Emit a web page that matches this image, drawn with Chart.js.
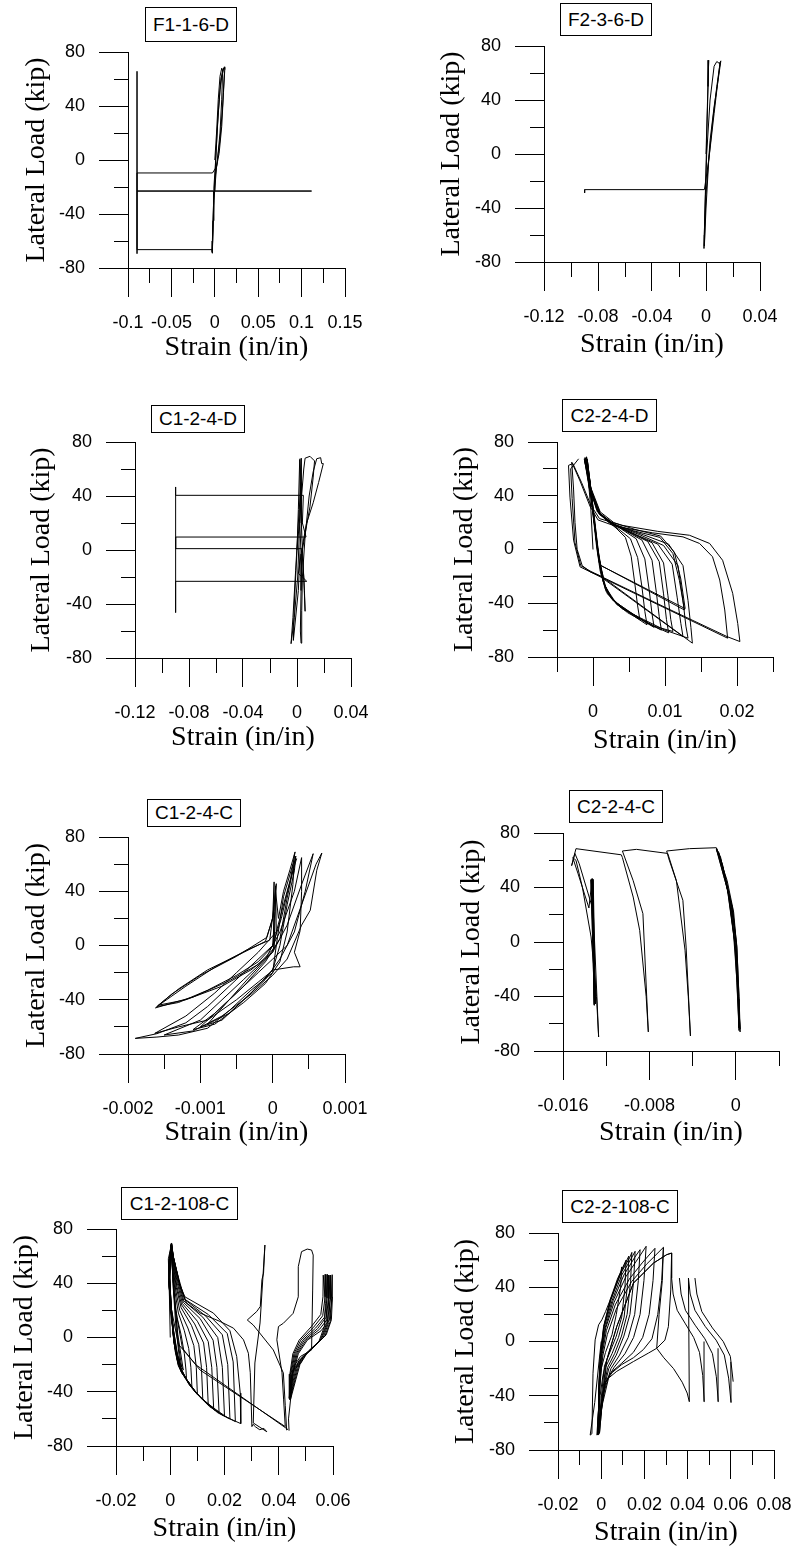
<!DOCTYPE html>
<html><head><meta charset="utf-8">
<script src="https://cdn.jsdelivr.net/npm/chart.js@4.4.1/dist/chart.umd.min.js"></script>
<style>
html,body{margin:0;padding:0;background:#fff;}
body{width:799px;height:1552px;position:relative;overflow:hidden;}
canvas{position:absolute;}
.tbox{position:absolute;border:1px solid #000;box-sizing:border-box;background:#fff;font-family:'Liberation Sans',Arial,sans-serif;font-size:19px;color:#000;display:flex;align-items:center;justify-content:center;white-space:nowrap;}
</style></head><body>
<script>
// ---------- shared y ticks ----------
const Y_MAJOR = [-80,-40,0,40,80];
const Y_LABELS = ['-80','-40','0','40','80'];
const Y_MINOR = [-80,-60,-40,-20,0,20,40,60,80];

// ---------- F1-1-6-D ----------
const F116D_X_MAJOR = [-0.1,-0.05,0,0.05,0.1,0.15];
const F116D_X_LABELS = ['-0.1','-0.05','0','0.05','0.1','0.15'];
const F116D_X_MINOR = [-0.1,-0.075,-0.05,-0.025,0,0.025,0.05,0.075,0.1,0.125,0.15];
const F116D_PATH = [[0,0],[0.002,20],[0.004,45],[0.006,62],[0.008,68],[0.009,66],[0.008,45],[0.006,20],[0.003,0],[0,-15],[-0.002,-40],[-0.003,-66],[-0.0028,-69],[-0.002,-45],[-0.001,-20],[0.001,0],[0.003,25],[0.006,52],[0.009,66],[0.011,69],[0.0115,67],[0.010,50],[0.008,25],[0.005,5],[0.002,-5],[-0.0027,-9.6],[-0.0896,-9.6],[-0.0896,65.7],[-0.0896,-69.4],[-0.0896,-66.4],[-0.0027,-66.4],[-0.002,-45],[-0.0015,-23],[-0.0896,-23],[0.1115,-23],[0,-23],[0.001,0],[0.004,35],[0.007,60],[0.010,68],[0.011,64],[0.009,40],[0.006,15],[0.002,-5],[-0.001,-30],[-0.0025,-60],[-0.003,-68]];

// ---------- F2-3-6-D ----------
const F236D_X_MAJOR = [-0.12,-0.08,-0.04,0,0.04];
const F236D_X_LABELS = ['-0.12','-0.08','-0.04','0','0.04'];
const F236D_X_MINOR = [-0.12,-0.1,-0.08,-0.06,-0.04,-0.02,0,0.02,0.04];
const F236D_PATH = [[0,0],[0.001,35],[0.002,69.5],[0.0015,50],[0.0005,10],[-0.0005,-30],[-0.0015,-70],[-0.001,-50],[0.0005,0],[0.003,40],[0.006,65],[0.008,68.5],[0.010,67],[0.011,69],[0.009,55],[0.006,35],[0.003,10],[0,-30],[-0.001,-60],[-0.0012,-68],[0,-40],[0.002,-5],[0.005,25],[0.008,50],[0.0105,68],[0.0095,60],[0.006,30],[0.002,-5],[-0.0012,-26.4],[-0.0899,-26.4],[-0.0899,-28.8]];

// ---------- C1-2-4-D ----------
const C124D_X_MAJOR = [-0.12,-0.08,-0.04,0,0.04];
const C124D_X_LABELS = ['-0.12','-0.08','-0.04','0','0.04'];
const C124D_X_MINOR = [-0.12,-0.1,-0.08,-0.06,-0.04,-0.02,0,0.02,0.04];
const C124D_PATH = [[0,0],[0.001,30],[0.002,67],[0.0025,60],[0.002,20],[0.0005,-20],[-0.002,-50],[-0.0044,-69.4],[-0.003,-50],[-0.001,-15],[0.001,20],[0.003,50],[0.003,68],[0.0035,60],[0.003,20],[0.001,-30],[-0.0027,-67],[-0.002,-40],[0,0],[0.003,35],[0.005,60],[0.006,68],[0.0096,69.4],[0.013,66],[0.012,54],[0.0096,32],[0.006,12],[0.0035,-3],[0.003,-30],[0.0025,-60],[0.003,-69],[0.0035,-45],[0.004,-20],[0.006,10],[0.009,40],[0.012,58],[0.0146,67.6],[0.0175,68.4],[0.0183,64],[0.0195,64],[0.016,50],[0.012,35],[0.007,19.5],[0.0035,0],[0.001,-17.5],[0.004,-20],[0.0072,-23.2],[-0.0899,-23.2],[-0.0899,-46.4],[-0.0899,46.7],[-0.0899,40.5],[0.0047,40.5],[0.004,20],[0.0067,9.6],[-0.0899,9.6],[-0.0899,1],[0.0035,1],[0.005,-20],[0.006,-45.4],[0.0055,-30],[0.004,0],[0.0025,40],[0.0022,67.7]];

// ---------- C2-2-4-D ----------
const C224D_X_MAJOR = [0,0.01,0.02];
const C224D_X_LABELS = ['0','0.01','0.02'];
const C224D_X_MINOR = [-0.005,0,0.005,0.01,0.015,0.02,0.025];
const C224D_PATH = [[0,0],[-0.0003,30],[-0.0007,55],[-0.0009,68],
[-0.0004,48],[0.0005,30],[0.0018,22],[0.0032,16],[0.0045,9],[0.0053,-5],[0.0058,-25],[0.0062,-42],[0.0065,-52],
[0.0048,-47],[0.0032,-40],[0.0018,-31],[0.0010,-16],[0.0005,2],[0,26],[-0.0004,50],[-0.0008,67],
[-0.0005,46],[0.0006,28],[0.0020,21],[0.0036,15],[0.0052,8],[0.0062,-6],[0.0068,-28],[0.0072,-46],[0.0075,-56],
[0.0058,-50],[0.0040,-43],[0.0022,-34],[0.0012,-20],[0.0006,0],[0.0001,25],[-0.0004,50],[-0.0010,68],
[-0.0004,45],[0.0007,28],[0.0022,21],[0.0040,15],[0.0060,8],[0.0072,-7],[0.0078,-30],[0.0082,-48],[0.0085,-58],
[0.0066,-52],[0.0045,-45],[0.0026,-37],[0.0014,-24],[0.0007,-2],[0.0001,24],[-0.0005,52],[-0.0011,68.5],
[-0.0005,46],[0.0007,28],[0.0024,20],[0.0045,14],[0.0068,7],[0.0082,-8],[0.0088,-32],[0.0092,-50],[0.0095,-60],
[0.0073,-54],[0.0050,-46],[0.0028,-38],[0.0015,-25],[0.0007,-3],[0.0001,24],[-0.0005,52],[-0.0010,68],
[-0.0004,45],[0.0008,27],[0.0026,20],[0.0050,13],[0.0076,6],[0.0092,-9],[0.0098,-33],[0.0102,-52],[0.0105,-62],
[0.0080,-56],[0.0055,-48],[0.0031,-39],[0.0016,-27],[0.0008,-5],[0.0002,22],[-0.0004,50],[-0.0009,69],
[-0.0004,44],[0.0009,26],[0.0027,19],[0.0055,12],[0.0082,5],[0.0098,-10],[0.0104,-34],[0.0108,-52],[0.0111,-61],
[0.0085,-57],[0.0058,-49],[0.0033,-41],[0.0017,-29],[0.0008,-8],[0.0002,20],[-0.0004,48],[-0.0008,67],
[-0.0003,45],[0.0010,27],[0.0028,19],[0.0056,14],[0.0093,9],[0.0111,-3],[0.0120,-23],[0.0127,-45],
[0.0010,-11.6],[0.0006,5],[0.0001,28],[-0.0005,52],[-0.0010,68],
[-0.0003,46],[0.0010,28],[0.0029,20],[0.0058,15],[0.0094,10],[0.0113,-2],[0.0122,-22],[0.0128,-44],
[0.0011,-12],[0.0005,5],[0,28],[-0.0006,54],[-0.0012,67],
[-0.0003,44],[0.0010,26],[0.0030,18],[0.0060,11],[0.0090,4],[0.0110,-11],[0.0117,-36],[0.0122,-55],[0.0125,-64.8],
[0.0015,-22],[0.0008,-6],[0.0002,20],[-0.0005,48],[-0.0011,68],
[-0.0003,44],[0.0010,26],[0.0031,18],[0.0065,11],[0.0098,3],[0.0118,-12],[0.0125,-38],[0.0129,-57],[0.0132,-66],
[0.0100,-60],[0.0070,-52],[0.0040,-44],[0.0020,-33],[0.0009,-10],[0.0002,18],[-0.0005,47],[-0.0012,67.5],
[-0.0005,45],[0.0009,27],[0.0032,18],[0.0070,11],[0.0105,4],[0.0125,-12],[0.0132,-38],[0.0136,-58],[0.0138,-69.7],
[0.0012,-20],[-0.0004,-16.6],[-0.0015,-12],[-0.0022,0],[-0.0025,20],[-0.0027,45],[-0.00295,65],
[-0.0018,51],[-0.0004,32],[0.0007,22],[0.0033,17],[0.0083,12.4],[0.0125,9.4],[0.0148,4.5],[0.0166,-5.4],[0.0176,-22.7],[0.0183,-45],[0.0187,-66],
[0.0010,-20.3],[-0.0004,-16.6],[-0.0018,-12.9],[-0.0027,7],[-0.0032,39],[-0.0034,62.6],
[-0.0028,64],[-0.0016,50],[-0.0003,33],[0.0009,23],[0.0040,18],[0.0090,13.5],[0.0134,10.6],[0.0162,4.5],[0.0180,-8],[0.0194,-32.6],[0.0201,-55],[0.0204,-68.5],
[0.0187,-65],[0.0100,-43],[0.0011,-20],[-0.0004,-16],[-0.0017,-12],[-0.0025,5],[-0.0029,38],[-0.0031,60],[-0.0020,67.5]];

// ---------- C1-2-4-C ----------
const C124C_X_MAJOR = [-0.002,-0.001,0,0.001];
const C124C_X_LABELS = ['-0.002','-0.001','0','0.001'];
const C124C_X_MINOR = [-0.002,-0.0015,-0.001,-0.0005,0,0.0005,0.001];
const C124C_PATH = [[0,0],[0.00003,25],[0.00005,45.6],[0.00002,30],[-0.00004,4],[-0.00036,-3.4],[-0.0008,-16],[-0.0012,-30],[-0.0016,-45],[-0.0013,-42],[-0.0009,-33],[-0.0005,-22],[-0.0002,-12],[0.00001,0],[0.00002,46.9],[0,20],[-0.0001,3],[-0.0004,-5],[-0.0009,-18],[-0.0013,-32],[-0.00158,-44],[-0.0012,-40],[-0.0007,-30],[-0.0003,-18],[0,-5],[0.00005,10],[0.00004,44],
[0.00001,22],[-0.00008,6],[-0.0005,-8],[-0.001,-22],[-0.0014,-36],[-0.00162,-46],[-0.0011,-38],[-0.0006,-26],[-0.0002,-14],[0.00002,-2],[0.00004,40],
[0.00008,20],[0.00015,40],[0.00024,56],[0.00031,69],[0.00025,50],[0.00012,20],[0,0],[-0.0003,-15],[-0.0006,-30],[-0.0009,-45],[-0.0012,-57],[-0.0016,-65],[-0.0019,-68.5],[-0.0016,-67.5],[-0.0013,-66],[-0.0009,-61],[-0.0006,-48],[-0.0003,-33],[0,-20],[0.00005,0],[0.00015,36],[0.00028,60],[0.00033,64],[0.0002,40],[0.00005,10],[-0.0002,-5],[-0.0005,-20],[-0.0008,-35],[-0.0012,-52],[-0.00163,-64.8],[-0.0013,-60],[-0.0009,-55],[-0.0005,-40],[-0.0002,-27],[0.00001,-18],[0.00029,-15.7],[0.00038,-15.7],[0.0003,-5],[0.00038,11],[0.0004,40],[0.0004,64.8],[0.0003,40],[0.0001,10],[-0.0001,-10],[-0.0004,-25],[-0.0007,-40],[-0.001,-55],[-0.0015,-66],[-0.0011,-63],[-0.0007,-52],[-0.0003,-36],[0,-22],[0.0002,-10],[0.0004,15],[0.00052,26],[0.00061,55.5],[0.00068,68.2],[0.0006,60],[0.0004,30],[0.0002,0],[0,-10],[-0.0002,-20],[-0.0005,-35],[-0.0008,-50],[-0.001,-60],[-0.0007,-55],[-0.0004,-40],[-0.0001,-25],[0.0001,-10],[0.0003,10],[0.00045,40],[0.00056,67.7],
[0.0004,45],[0.0002,15],[0,-5],[-0.0003,-22],[-0.0006,-40],[-0.0009,-58],[-0.0006,-50],[-0.0003,-35],[0,-18],[0.0001,0],[0.0002,30],[0.0003,55],[0.00032,66],[0.0002,35],[0.0001,5],[-0.0001,-12],[-0.0004,-30],[-0.0008,-50],[-0.0011,-62],[-0.0008,-58],[-0.0004,-42],[-0.0001,-28],[0.0001,-12],[0.0002,10],[0.00028,45],[0.0003,67]];

// ---------- C2-2-4-C ----------
const C224C_X_MAJOR = [-0.016,-0.008,0];
const C224C_X_LABELS = ['-0.016','-0.008','0'];
const C224C_X_MINOR = [-0.016,-0.012,-0.008,-0.004,0,0.004];
const C224C_PATH = [[0,0],[-0.0004,25],[-0.0012,55],[-0.0018,68],[-0.001,45],[-0.0003,25],[0,0],[0.0002,-30],[0.0003,-65],[0.0001,-30],[-0.0001,0],[-0.0005,30],[-0.0013,58],[-0.0017,67],[-0.0008,45],[-0.0002,22],[0.0001,-5],[0.0003,-40],[0.0004,-64],[0.0002,-35],[0,-5],[-0.0007,35],[-0.0014,62],[-0.0018,69],[-0.0011,48],[-0.0004,28],[0,2],[0.0002,-32],[0.0004,-66],[0.0002,-38],[0,-8],[-0.0006,32],[-0.0012,56],[-0.0016,66],[-0.0009,46],[-0.0003,24],[0.0001,-3],[0.0003,-42],[0.0003,-63],[0.0001,-28],[-0.0002,5],[-0.0008,40],[-0.0015,63],[-0.0018,69.2],
[-0.0043,68.5],[-0.0064,66.8],
[-0.0062,61],[-0.0049,30.6],[-0.0046,-3.7],[-0.0042,-69],[-0.0044,-40],[-0.0047,-6],[-0.0055,45],[-0.0063,65],
[-0.0092,68],[-0.0105,66.8],
[-0.0095,45],[-0.0086,20.8],[-0.0081,-66],[-0.0083,-40],[-0.0089,8.6],[-0.0095,33],[-0.0105,62],[-0.0106,64],
[-0.0148,68.5],
[-0.0152,56],[-0.0149,65],[-0.0145,57.5],[-0.0132,23],[-0.0127,-69.7],[-0.0129,-40],[-0.0134,3.7],[-0.0142,40],[-0.0148,60],[-0.0151,62],[-0.0146,50],[-0.0136,25],[-0.0133,46.5],[-0.0131,-46],[-0.0133,46],[-0.013,-45],[-0.0134,45.5],[-0.0131,-46.5],[-0.0133,46.5],[-0.0130,-45.5],[-0.0132,46],[-0.0131,-46],[-0.0134,46],[-0.0130,-45]];

// ---------- C1-2-108-C ----------
const C12108C_X_MAJOR = [-0.02,0,0.02,0.04,0.06];
const C12108C_X_LABELS = ['-0.02','0','0.02','0.04','0.06'];
const C12108C_X_MINOR = [-0.02,-0.01,0,0.01,0.02,0.03,0.04,0.05,0.06];
const C12108C_PATH = [[0,0],[-0.0003,30],[-0.0007,58],[0.0005,69],[0.001,40],[0.002,10],[0.0035,-18],[0.002,-10],[0,20],[-0.0006,50],[0.0003,68],[0.0015,30],[0.003,-5],[0.0042,-22],[0.0025,-12],[0.0005,15],[-0.0004,45],[0.0004,68],[0.0012,35],[0.0028,2],[0.0048,-24],[0.003,-16],[0.0008,10],[-0.0005,50],[0.0003,68],
[0.0008,50],[0.0015,30],[0.0025,15],[0.004,2],[0.0052,-12],[0.0058,-24],[0.006,-31],[0.0045,-27],[0.003,-21],[0.0018,-10],[0.0008,8],[0,30],[-0.0004,52],[0.0002,68],
[0.0009,52],[0.0018,33],[0.003,18],[0.0052,5],[0.0068,-8],[0.0076,-22],[0.008,-37],[0.006,-31],[0.0042,-26],[0.0028,-19],[0.0015,-5],[0.0005,15],[-0.0003,45],[0.0003,69],
[0.001,54],[0.002,35],[0.0035,20],[0.0065,7],[0.0087,-6],[0.0096,-22],[0.01,-42],[0.0078,-36],[0.0058,-30],[0.004,-25],[0.0025,-16],[0.0012,0],[0,30],[-0.0005,55],[0.0004,68],
[0.0011,55],[0.0022,37],[0.004,22],[0.0078,9],[0.0105,-5],[0.0115,-22],[0.012,-46],[0.0095,-41],[0.0072,-34],[0.005,-28],[0.003,-20],[0.0015,-5],[0.0003,25],[-0.0004,52],[0.0005,69],
[0.0012,56],[0.0024,38],[0.0042,24],[0.009,10],[0.0123,-4],[0.0134,-22],[0.014,-49.5],[0.011,-44],[0.0085,-38],[0.006,-31],[0.0035,-22],[0.0017,-7],[0.0004,22],[-0.0005,50],[0.0004,68],
[0.0012,57],[0.0026,40],[0.0045,25],[0.01,12],[0.014,-3],[0.0153,-22],[0.016,-52],[0.0128,-47.5],[0.0098,-41],[0.007,-34],[0.0045,-26],[0.0025,-14],[0.0008,10],[-0.0003,45],[0.0005,68.5],
[0.0012,58],[0.0028,41],[0.0048,26],[0.011,14],[0.0158,-2],[0.0172,-22],[0.018,-55.5],[0.0145,-51],[0.011,-44],[0.008,-37],[0.005,-28],[0.003,-19],[0.0012,0],[-0.0002,35],[0.0004,69],
[0.0012,59],[0.003,42],[0.005,27],[0.012,15],[0.0175,0],[0.0192,-22],[0.02,-58],[0.016,-53],[0.012,-46],[0.0085,-38.6],[0.0055,-30],[0.0032,-20],[0.0013,-3],[-0.0004,38],[0.0003,68],
[0.0011,59],[0.0032,43],[0.0053,28],[0.013,16],[0.0192,2],[0.0212,-20],[0.022,-60],[0.0175,-55.5],[0.0134,-48.5],[0.0095,-40.5],[0.006,-31],[0.0035,-21],[0.0014,-3],[-0.0005,40],[0.0004,69.5],
[0.0011,60],[0.0034,40],[0.0055,28],[0.014,17],[0.021,3],[0.0232,-18],[0.024,-62],[0.019,-57],[0.0145,-50],[0.01,-42],[0.0065,-33],[0.0038,-22],[0.0015,-4],[-0.0006,42],[0.0005,69.7],
[0.0011,60],[0.0035,39],[0.0054,30],[0.0159,18],[0.022,5],[0.0245,-14],[0.0258,-41],[0.026,-63.5],[0.021,-59],[0.016,-52],[0.011,-44],[0.007,-35],[0.004,-24],[0.0016,-5],[-0.0006,42],[0.0005,69],
[0.0011,60],[0.0036,37.7],[0.006,25.4],[0.011,18],[0.0184,11.8],[0.0233,6.9],[0.027,-1.7],[0.0288,-11.6],[0.0295,-26],[0.0301,-65.7],[0.0305,-64],[0.0315,-66],[0.033,-68],[0.0345,-67],[0.0356,-69.5],
[0.0306,-63],[0.0312,-18.8],[0.0331,10.7],[0.0349,68.2],[0.0344,47.5],[0.0338,42.6],[0.0332,22.9],[0.0319,19.2],[0.0284,12.9],[0.0306,9.2],[0.038,-9.2],[0.0417,-26.2],[0.0424,-50],[0.0429,-68.2],[0.0433,-67.7],
[0.0095,-20.2],[0.003,-5],[0,25],[-0.0006,55],[0.0005,69],[0.0008,50],[0.002,20],[0.0045,-8],[0.011,-24],[0.0424,-65.7],
[0.0418,-46],[0.0412,-26],[0.0393,-1.7],[0.0399,8.1],[0.0417,10.5],[0.0453,17.8],[0.0472,30],[0.0472,52.2],[0.0484,63.3],[0.0505,65.2],[0.0521,64.5],[0.0527,60.8],[0.0525,35],[0.0521,-9.2],[0.048,-14],[0.046,-20],[0.0445,-30],[0.0439,-44.6],
[0.0442,-35],[0.0452,-25],[0.0475,-17],[0.051,-10],[0.0548,-3],[0.0568,8],[0.0572,25],[0.0564,46],[0.0563,30],[0.0555,17],[0.052,8],[0.0475,-2],[0.0452,-12],[0.0441,-27],[0.0439,-45],
[0.0447,-35],[0.0458,-24],[0.048,-16],[0.0515,-9],[0.0553,-2],[0.0574,9],[0.0578,26],[0.0572,46.5],[0.0571,30],[0.0562,16],[0.0528,7.5],[0.0481,-2],[0.0456,-12],[0.0443,-27],[0.044,-45.5],
[0.0451,-34],[0.0463,-23],[0.0486,-15],[0.0521,-8],[0.0558,-1],[0.0579,10],[0.0584,27],[0.0579,46.5],[0.0578,29],[0.0569,15],[0.0536,7],[0.0488,-2],[0.046,-12],[0.0445,-27],[0.0441,-46],
[0.0455,-33],[0.0468,-22],[0.0492,-14],[0.0528,-7],[0.0564,0],[0.0584,11],[0.0589,28],[0.0585,46],[0.0584,29],[0.0575,15],[0.0543,6.5],[0.0494,-2],[0.0464,-12],[0.0448,-27],[0.0442,-45],
[0.0459,-32],[0.0473,-21],[0.0498,-13],[0.0535,-6],[0.057,1],[0.059,12],[0.0595,29],[0.0591,46],[0.059,28],[0.0581,14],[0.055,6],[0.05,-2],[0.0468,-12],[0.045,-27],[0.0443,-46],
[0.0463,-31],[0.0478,-20],[0.0503,-12],[0.054,-5],[0.0575,2],[0.0594,13],[0.0598,30],[0.0597,46.3],[0.0596,28],[0.0587,13],[0.0556,5],[0.0505,-2],[0.0472,-12],[0.0452,-27],[0.0444,-45],
[0.0436,-60],[0.0438,-68.7]];

// ---------- C2-2-108-C ----------
const C22108C_X_MAJOR = [-0.02,0,0.02,0.04,0.06,0.08];
const C22108C_X_LABELS = ['-0.02','0','0.02','0.04','0.06','0.08'];
const C22108C_X_MINOR = [-0.02,-0.01,0,0.01,0.02,0.03,0.04,0.05,0.06,0.07,0.08];
const C22108C_FAN = [[0,0],[-0.001,-15],[-0.003,-45],[-0.0051,-69],[-0.0043,-68],[-0.0038,-23.4],[-0.0028,1.2],[-0.0012,12.3],[0.0003,16],[0.002,22],[0.004,30],[0.0065,40],[0.009,50],[0.0095,55],[0.009,40],[0.007,20],[0.005,5],[0.002,-8],[0,-20],[-0.001,-45],[-0.002,-69],[-0.0012,-67.7],
[-0.0012,-36],[-0.0005,-11],[0.0011,11],[0.0042,31],[0.0075,46],[0.0115,60],[0.011,40],[0.0095,18],[0.007,4],[0.004,-8],[0.0015,-18],[0,-42],[-0.0013,-68],
[-0.0011,-36],[-0.0004,-11],[0.0012,11],[0.0044,31],[0.0085,49],[0.0128,63],[0.0122,42],[0.0106,18],[0.008,3],[0.005,-9],[0.002,-19],[0.0002,-44],[-0.0014,-68.5],
[-0.0011,-35],[-0.0003,-10],[0.0013,11],[0.0046,31],[0.009,50],[0.0134,62.5],[0.0142,65.7],[0.0136,44],[0.012,20],[0.0094,4],[0.0062,-9],[0.003,-19],[0.0005,-40],[-0.0015,-69],
[-0.001,-34],[-0.0002,-10],[0.0015,11],[0.005,30],[0.0095,49],[0.0145,63],[0.0157,66.5],[0.015,44],[0.0133,20],[0.0105,4],[0.007,-10],[0.0035,-20],[0.0008,-38],[-0.0016,-68],
[-0.0009,-33],[0,-9],[0.0018,10],[0.0055,30],[0.0105,49],[0.0155,62],[0.018,67.7],[0.0172,45],[0.0155,20],[0.0125,3],[0.0085,-10],[0.0045,-20],[0.0012,-38],[-0.0017,-68],
[-0.0008,-32],[0.0002,-9],[0.0021,10],[0.006,29],[0.0115,48],[0.017,61],[0.0208,70.2],[0.0198,45],[0.018,20],[0.015,3],[0.011,-9],[0.006,-19],[0.002,-30],[0,-50],[-0.0017,-68.5],
[-0.0007,-30],[0.0005,-9],[0.0024,8],[0.0065,27],[0.013,46],[0.019,58],[0.0249,68.7],[0.024,45],[0.0222,20],[0.0192,3],[0.0149,-8],[0.0095,-16],[0.0045,-23],[0.0015,-32],[0,-52],[-0.0016,-68],
[-0.0006,-30],[0.0008,-10],[0.0028,5],[0.007,24],[0.014,44],[0.021,57],[0.0288,69.4],[0.028,45],[0.0262,20],[0.0235,2],[0.0195,-6],[0.0149,-12],[0.0095,-17],[0.005,-23],[0.002,-30],[0.0003,-48],[-0.0015,-67.7],
[-0.0005,-40],[0.0008,-25],[0.0026,-13.5],[0.0072,11],[0.0149,43],[0.0242,57.8],[0.0303,64],[0.0326,65.2],[0.0322,38],[0.0311,11],[0.0295,1],[0.0257,-5],[0.0218,-8.6],[0.0149,-14.8],[0.0072,-22],[0.0034,-27],[0.0003,-48],[-0.0008,-67.7],
[0.0003,-48],[0.0026,-13.5],[0.0072,11],[0.0149,43],[0.0242,57.8],[0.0303,64],[0.0326,65.2],[0.0326,46.8],[0.0333,35],[0.0352,23],[0.039,13],[0.0428,3],[0.0455,-8],[0.047,-25],[0.0477,-44.4],[0.0476,0]];
const C22108C_RIGHT_A = [[0.0288,69.4],[0.0283,45],[0.0268,20],[0.0257,-5],[0.029,-12],[0.0335,-20],[0.0375,-30],[0.0398,-38],[0.0408,-44.4],[0.0404,46.8],[0.0412,35],[0.0434,23],[0.0482,11],[0.0532,1],[0.057,-10],[0.059,-27],[0.0601,-45],[0.06,-15]];
const C22108C_RIGHT_B = [[0.0362,46.8],[0.037,35],[0.039,23],[0.0435,12],[0.048,2],[0.0515,-9],[0.0533,-26],[0.0542,-44.4],[0.0541,-5]];
const C22108C_RIGHT_C = [[0.0434,46.8],[0.0443,35],[0.0466,22],[0.0515,10],[0.0565,0],[0.0598,-11],[0.0611,-29.6]];

// ---------- panel layout (page pixels) ----------
const PANELS = [
  {title:'F1-1-6-D', cellL:0, cellW:400, plotL:128, plotR:345, plotT:52, plotB:268, yTitleX:37, xTitleY:348, box:[145,7,92,35], xMin:-0.1, xMax:0.15, xMajor:F116D_X_MAJOR, xLabels:F116D_X_LABELS, xMinor:F116D_X_MINOR, paths:[F116D_PATH]},
  {title:'F2-3-6-D', cellL:400, cellW:399, plotL:544, plotR:760, plotT:46, plotB:262, yTitleX:452, xTitleY:345, box:[560,3,92,33], xMin:-0.12, xMax:0.04, xMajor:F236D_X_MAJOR, xLabels:F236D_X_LABELS, xMinor:F236D_X_MINOR, paths:[F236D_PATH]},
  {title:'C1-2-4-D', cellL:0, cellW:400, plotL:135, plotR:351, plotT:442, plotB:658, yTitleX:42, xTitleY:738, box:[151,405,94,28], xMin:-0.12, xMax:0.04, xMajor:C124D_X_MAJOR, xLabels:C124D_X_LABELS, xMinor:C124D_X_MINOR, paths:[C124D_PATH]},
  {title:'C2-2-4-D', cellL:400, cellW:399, plotL:557, plotR:773, plotT:442, plotB:657, yTitleX:465, xTitleY:741, box:[562,399,95,33], xMin:-0.005, xMax:0.025, xMajor:C224D_X_MAJOR, xLabels:C224D_X_LABELS, xMinor:C224D_X_MINOR, paths:[C224D_PATH]},
  {title:'C1-2-4-C', cellL:0, cellW:400, plotL:128, plotR:345, plotT:837, plotB:1054, yTitleX:37, xTitleY:1133, box:[147,799,94,28], xMin:-0.002, xMax:0.001, xMajor:C124C_X_MAJOR, xLabels:C124C_X_LABELS, xMinor:C124C_X_MINOR, paths:[C124C_PATH]},
  {title:'C2-2-4-C', cellL:400, cellW:399, plotL:563, plotR:779, plotT:833, plotB:1051, yTitleX:472, xTitleY:1133, box:[569,790,94,33], xMin:-0.016, xMax:0.004, xMajor:C224C_X_MAJOR, xLabels:C224C_X_LABELS, xMinor:C224C_X_MINOR, paths:[C224C_PATH]},
  {title:'C1-2-108-C', cellL:0, cellW:400, plotL:116, plotR:333, plotT:1229, plotB:1446, yTitleX:25, xTitleY:1529, box:[121,1187,117,33], xMin:-0.02, xMax:0.06, xMajor:C12108C_X_MAJOR, xLabels:C12108C_X_LABELS, xMinor:C12108C_X_MINOR, paths:[C12108C_PATH]},
  {title:'C2-2-108-C', cellL:400, cellW:399, plotL:558, plotR:774, plotT:1233, plotB:1450, yTitleX:466, xTitleY:1533, box:[562,1190,116,33], xMin:-0.02, xMax:0.08, xMajor:C22108C_X_MAJOR, xLabels:C22108C_X_LABELS, xMinor:C22108C_X_MINOR, paths:[C22108C_FAN, C22108C_RIGHT_A, C22108C_RIGHT_B, C22108C_RIGHT_C]}
];

const TICK_FONT = {family:"'Liberation Sans', Arial, sans-serif", size:18};
const AXIS_TITLE_FONT = {family:"'Liberation Serif', 'Times New Roman', serif", size:28, lineHeight:1};

function zeroPad(s){ s.paddingLeft = 0; s.paddingRight = 0; s.paddingTop = 0; s.paddingBottom = 0; }

function makePanel(p){
  const canvasTop = p.plotT - 25;
  const canvasH = Math.min(p.xTitleY + 20, 1552) - canvasTop;
  const cv = document.createElement('canvas');
  cv.width = p.cellW; cv.height = canvasH;
  cv.style.left = p.cellL + 'px'; cv.style.top = canvasTop + 'px';
  cv.style.width = p.cellW + 'px'; cv.style.height = canvasH + 'px';
  document.body.appendChild(cv);

  const padL = p.yTitleX - 14 - p.cellL;
  const yW = p.plotL - p.cellL - padL;
  const xH = p.xTitleY + 14 - p.plotB;
  const padR = p.cellL + p.cellW - p.plotR;
  const padB = canvasH - (p.plotB - canvasTop) - xH;

  const datasets = p.paths.map(path => ({
    data: path.map(pt => ({x: pt[0], y: pt[1]})),
    showLine: true, borderColor:'#000', borderWidth:1, pointRadius:0, pointHoverRadius:0,
    tension:0, fill:false, xAxisID:'x', yAxisID:'y'
  }));

  new Chart(cv, {
    type:'scatter',
    data:{datasets},
    options:{
      responsive:false, maintainAspectRatio:false, animation:false, devicePixelRatio:1, events:[],
      layout:{padding:{left:padL, top:25, right:padR, bottom:padB}},
      plugins:{legend:{display:false}, tooltip:{enabled:false}, title:{display:false}},
      scales:{
        x:{type:'linear', position:'bottom', weight:1, min:p.xMin, max:p.xMax,
          afterBuildTicks: s => { s.ticks = p.xMajor.map(v => ({value:v})); },
          afterFit: s => { s.height = xH; zeroPad(s); },
          grid:{display:true, drawOnChartArea:false, drawTicks:true, tickLength:29, color:'#000', lineWidth:1},
          border:{display:true, color:'#000', width:1},
          ticks:{autoSkip:false, maxRotation:0, minRotation:0, padding:15, color:'#000', font:TICK_FONT,
                 callback: (v, i) => p.xLabels[i]},
          title:{display:true, text:'Strain (in/in)', color:'#000', font:AXIS_TITLE_FONT, padding:0}
        },
        x2:{type:'linear', position:'bottom', weight:0, min:p.xMin, max:p.xMax,
          afterBuildTicks: s => { s.ticks = p.xMinor.map(v => ({value:v})); },
          afterFit: s => { s.height = 0; zeroPad(s); },
          grid:{display:true, drawOnChartArea:false, drawTicks:true, tickLength:15, color:'#000', lineWidth:1},
          border:{display:false},
          ticks:{display:false},
          title:{display:false}
        },
        y:{type:'linear', position:'left', weight:1, min:-80, max:80,
          afterBuildTicks: s => { s.ticks = Y_MAJOR.map(v => ({value:v})); },
          afterFit: s => { s.width = yW; zeroPad(s); },
          grid:{display:true, drawOnChartArea:false, drawTicks:true, tickLength:29, color:'#000', lineWidth:1},
          border:{display:true, color:'#000', width:1},
          ticks:{autoSkip:false, padding:14, color:'#000', font:TICK_FONT,
                 callback: (v, i) => Y_LABELS[i]},
          title:{display:true, text:'Lateral Load (kip)', color:'#000', font:AXIS_TITLE_FONT, padding:0}
        },
        y2:{type:'linear', position:'left', weight:0, min:-80, max:80,
          afterBuildTicks: s => { s.ticks = Y_MINOR.map(v => ({value:v})); },
          afterFit: s => { s.width = 0; zeroPad(s); },
          grid:{display:true, drawOnChartArea:false, drawTicks:true, tickLength:14, color:'#000', lineWidth:1},
          border:{display:false},
          ticks:{display:false},
          title:{display:false}
        }
      }
    }
  });

  const b = document.createElement('div');
  b.className = 'tbox';
  b.style.left = p.box[0] + 'px'; b.style.top = p.box[1] + 'px';
  b.style.width = p.box[2] + 'px'; b.style.height = p.box[3] + 'px';
  b.textContent = p.title;
  document.body.appendChild(b);
}

PANELS.forEach(makePanel);
</script>
</body></html>
